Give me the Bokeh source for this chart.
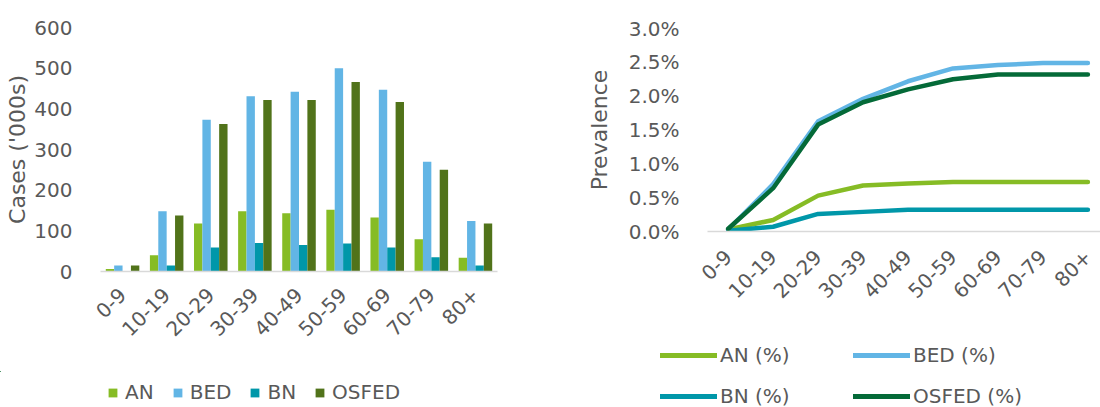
import math
from bokeh.plotting import figure
from bokeh.models import (ColumnDataSource, FactorRange, Range1d, FixedTicker,
                          NumeralTickFormatter, Legend, LegendItem)
from bokeh.transform import dodge
from bokeh.layouts import row, column
from bokeh.embed import file_html
from bokeh.resources import INLINE

# Age bands shared by both panels
age_groups = ["0-9", "10-19", "20-29", "30-39", "40-49", "50-59", "60-69", "70-79", "80+"]

# Cases ('000s) by eating-disorder type
cases_an = [6, 40, 118, 148, 143, 152, 133, 79, 34]
cases_bed = [15, 148, 373, 431, 442, 500, 447, 270, 124]
cases_bn = [1, 15, 59, 70, 65, 69, 59, 35, 15]
cases_osfed = [15, 138, 363, 422, 422, 466, 417, 250, 118]

# Prevalence (fraction of population)
prev_an = [0.0003, 0.0017, 0.0053, 0.0068, 0.0071, 0.0073, 0.0073, 0.0073, 0.0073]
prev_bed = [0.0003, 0.0070, 0.0163, 0.0196, 0.0222, 0.0241, 0.0246, 0.0249, 0.0249]
prev_bn = [0.0001, 0.0007, 0.0026, 0.0029, 0.0032, 0.0032, 0.0032, 0.0032, 0.0032]
prev_osfed = [0.0004, 0.0064, 0.0158, 0.0191, 0.0210, 0.0225, 0.0232, 0.0232, 0.0232]

case_ticks = [0, 100, 200, 300, 400, 500, 600]
prev_ticks = [0.0, 0.005, 0.01, 0.015, 0.02, 0.025, 0.03]

C_AN = "#86BC25"
C_BED = "#62B5E5"
C_BN = "#0097A9"
C_OSFED_BAR = "#51731A"
C_OSFED_LINE = "#046A38"
TXT = "#595959"
FONT = "DejaVu Sans"


def style_axes(p):
    p.outline_line_color = None
    p.grid.grid_line_color = None
    for ax in (p.xaxis[0], p.yaxis[0]):
        ax.major_tick_line_color = None
        ax.minor_tick_line_color = None
        ax.major_label_text_font = FONT
        ax.major_label_text_font_size = "20px"
        ax.major_label_text_color = TXT
        ax.axis_label_text_font = FONT
        ax.axis_label_text_font_size = "22px"
        ax.axis_label_text_font_style = "normal"
        ax.axis_label_text_color = TXT
    p.yaxis.axis_line_color = None
    p.xaxis.axis_line_color = "#D9D9D9"
    p.xaxis.axis_line_width = 1.5
    p.xaxis.major_label_orientation = math.pi / 4


def legend_strip(width, height):
    # a bare canvas that only carries a legend; its ranges sit far from the
    # data so the series drawn on it stay out of view and only their keys show
    f = figure(width=width, height=height, x_range=Range1d(100, 101),
               y_range=Range1d(-2, -1), output_backend="svg", toolbar_location=None,
               min_border=0, x_axis_location=None, y_axis_location=None)
    f.outline_line_color = None
    f.grid.visible = False
    return f


def make_legend(items, loc):
    lg = Legend(items=items, location=loc, orientation="horizontal")
    lg.label_text_font = FONT
    lg.label_text_font_size = "20px"
    lg.label_text_color = TXT
    lg.background_fill_alpha = 0
    lg.border_line_color = None
    lg.padding = 0
    lg.margin = 0
    return lg


# ---- left panel: cases by age band ----
src = ColumnDataSource(dict(age=age_groups, an=cases_an, bed=cases_bed,
                            bn=cases_bn, osfed=cases_osfed))

left = figure(frame_width=397, frame_height=244, x_range=FactorRange(*age_groups),
              y_range=Range1d(0, 600), output_backend="svg", toolbar_location=None,
              min_border_left=100, min_border_right=63, min_border_top=27,
              min_border_bottom=100)
bw = 0.19
bar_specs = [("an", -0.285, C_AN, "AN"), ("bed", -0.095, C_BED, "BED"),
             ("bn", 0.095, C_BN, "BN"), ("osfed", 0.285, C_OSFED_BAR, "OSFED")]
for col, off, color, label in bar_specs:
    left.vbar(x=dodge("age", off, range=left.x_range), top=col, width=bw,
              source=src, fill_color=color, line_color=None)

style_axes(left)
left.yaxis.ticker = FixedTicker(ticks=case_ticks)
left.yaxis.axis_label = "Cases ('000s)"
left.yaxis.major_label_standoff = 22
left.yaxis.axis_label_standoff = 1
left.xaxis.major_label_standoff = 14
left.x_range.range_padding = 0

idx = list(range(len(age_groups)))

left_key = legend_strip(560, 36)
bar_items = []
for col, off, color, label in bar_specs:
    r = left_key.vbar(x=idx, top=src.data[col], width=0.1, fill_color=color,
                      line_color=None)
    bar_items.append(LegendItem(label=label, renderers=[r]))
lg_left = make_legend(bar_items, (107, 3))
lg_left.glyph_width = 11
lg_left.glyph_height = 11
lg_left.label_standoff = 7
lg_left.spacing = 18
left_key.add_layout(lg_left)

# ---- right panel: prevalence by age band ----
right = figure(frame_width=393, frame_height=203, x_range=Range1d(-0.46, 8.28),
               y_range=Range1d(0, 0.03), output_backend="svg", toolbar_location=None,
               min_border_left=147, min_border_right=0, min_border_top=28,
               min_border_bottom=97)
line_specs = [(prev_an, C_AN, "AN (%)"), (prev_bed, C_BED, "BED (%)"),
              (prev_bn, C_BN, "BN (%)"), (prev_osfed, C_OSFED_LINE, "OSFED (%)")]
for vals, color, label in line_specs:
    right.line(idx, vals, line_color=color, line_width=4.5,
               line_join="round", line_cap="round")

style_axes(right)
right.xaxis.ticker = FixedTicker(ticks=idx)
right.xaxis.major_label_overrides = {i: g for i, g in zip(idx, age_groups)}
right.xaxis.major_label_standoff = 16
right.yaxis.ticker = FixedTicker(ticks=prev_ticks)
right.yaxis.formatter = NumeralTickFormatter(format="0.0%")
right.yaxis.axis_label = "Prevalence"
right.yaxis.major_label_standoff = 22
right.yaxis.axis_label_standoff = 14

right_key = legend_strip(540, 79)
line_items = []
for vals, color, label in line_specs:
    r = right_key.line(idx, vals, line_color=color, line_width=5, line_cap="round")
    line_items.append(LegendItem(label=label, renderers=[r]))
for items, vy in ((line_items[:2], 40), (line_items[2:], -1)):
    lg = make_legend(items, (100, vy))
    lg.glyph_width = 57
    lg.glyph_height = 20
    lg.label_standoff = 3
    lg.label_width = 110
    lg.spacing = 23
    right_key.add_layout(lg)

layout = row(column(row(left), row(left_key)), column(row(right), row(right_key)))
open("out.html", "w").write(file_html(layout, INLINE))
